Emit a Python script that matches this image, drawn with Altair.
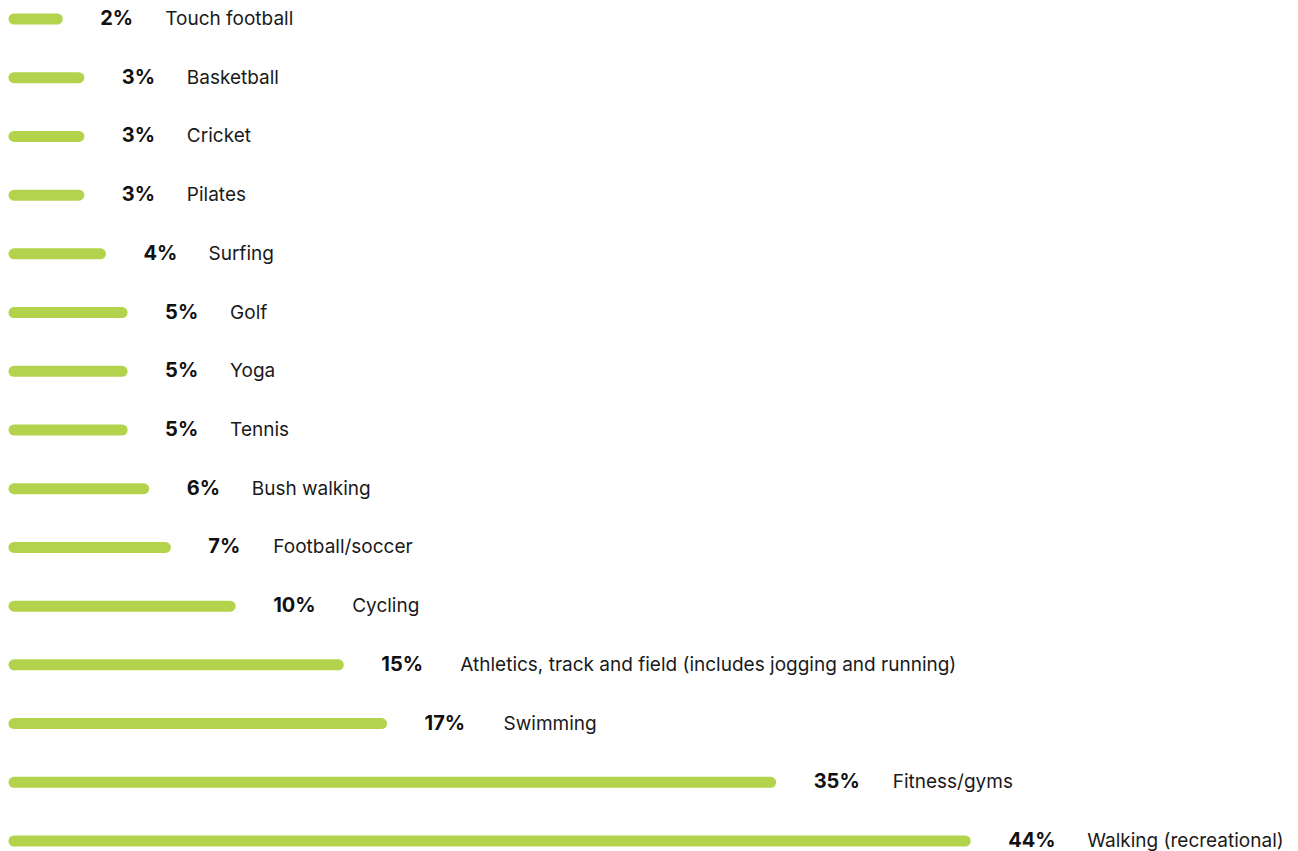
import altair as alt
import pandas as pd

activities = [
    "Touch football", "Basketball", "Cricket", "Pilates", "Surfing", "Golf",
    "Yoga", "Tennis", "Bush walking", "Football/soccer", "Cycling",
    "Athletics, track and field (includes jogging and running)", "Swimming",
    "Fitness/gyms", "Walking (recreational)",
]
percent = [2, 3, 3, 3, 4, 5, 5, 5, 6, 7, 10, 15, 17, 35, 44]

df = pd.DataFrame({"activity": activities, "pct": percent})

PX = 21.62  # pixels per percentage point
W = 1270
xscale = alt.Scale(domain=[0, W / PX], nice=False, zero=True)
yscale = alt.Scale(type="point", padding=0, domain=activities)

base = alt.Chart(df).encode(
    y=alt.Y("activity:N", scale=yscale, axis=None, sort=activities)
)

bars = base.mark_rule(strokeWidth=11, strokeCap="round", color="#b2d34b").encode(
    x=alt.X("zero:Q", scale=xscale, axis=None),
    x2="pct:Q",
).transform_calculate(zero="0")

pct_text = base.mark_text(
    align="left", baseline="middle", dx=43, font="Inter", fontSize=20,
    fontWeight="bold", color="#111111"
).transform_calculate(
    label="datum.pct + '%'"
).encode(x=alt.X("pct:Q", scale=xscale, axis=None), text="label:N")

name_text = base.mark_text(
    align="left", baseline="middle", font="Inter", fontSize=19,
    color="#1a1a1a"
).transform_calculate(
    lx=f"datum.pct + (94 + 14 * length(toString(datum.pct))) / {PX}"
).encode(x=alt.X("lx:Q", scale=xscale, axis=None), text="activity:N")

chart = alt.layer(bars, pct_text, name_text).properties(
    width=W, height=822,
    padding={"left": 0, "top": 1, "right": 5, "bottom": 4},
).configure_view(stroke=None)

chart.save("out.html", embed_options={"renderer": "svg", "actions": False})
